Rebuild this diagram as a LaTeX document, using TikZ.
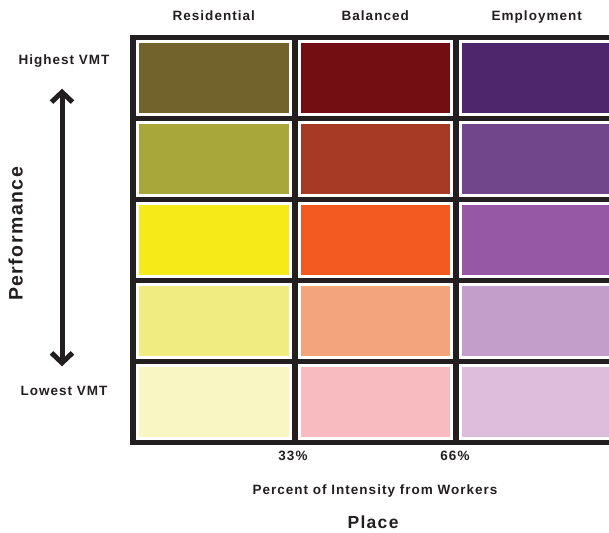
\documentclass[tikz,border=0pt]{standalone}
\usepackage{fontspec}
\setmainfont{Liberation Sans}[BoldFont={* Bold}]
\newfontfamily\labfont{Liberation Sans Bold}[LetterSpace=7.5]
\usetikzlibrary{arrows.meta,positioning}

\definecolor{gridblack}{HTML}{231F20}
\definecolor{res1}{HTML}{72632C}
\definecolor{res2}{HTML}{A7A839}
\definecolor{res3}{HTML}{F5EB18}
\definecolor{res4}{HTML}{F1EC82}
\definecolor{res5}{HTML}{F9F6C3}
\definecolor{bal1}{HTML}{730F12}
\definecolor{bal2}{HTML}{A73A24}
\definecolor{bal3}{HTML}{F25A22}
\definecolor{bal4}{HTML}{F4A47C}
\definecolor{bal5}{HTML}{F8BCC0}
\definecolor{emp1}{HTML}{4D266C}
\definecolor{emp2}{HTML}{71468A}
\definecolor{emp3}{HTML}{9657A4}
\definecolor{emp4}{HTML}{C39ECA}
\definecolor{emp5}{HTML}{DCBEDC}

\tikzset{
  cell/.style={draw=white, line width=3pt, inner sep=0pt,
    minimum width=152.5pt, minimum height=73pt},
  lab/.style={font=\labfont\fontsize{13.5}{15}\selectfont, text=gridblack,
    inner sep=1pt, text height=10pt, text depth=3pt},
  axis/.style={lab, text height=13pt, text depth=4pt},
  vmtarrow/.style={line width=5pt, draw=gridblack,
    {Straight Barb[length=10pt,width=21pt]}-{Straight Barb[length=10pt,width=21pt]}}
}

\begin{document}
\begin{tikzpicture}[x=1pt,y=-1pt]
\useasboundingbox (0,0) rectangle (609,532);
\begin{scope}
\clip (0,0) rectangle (609,532);
\fill [gridblack] (130,35) rectangle (620,445);
\foreach \kind [count=\c from 0] in {res,bal,emp}
  \foreach \r in {1,...,5}
    \node [cell, fill=\kind\r] (\kind-\r) at (213.75+161.5*\c, -3+81*\r) {};
\end{scope}
\node [lab] (hres) at (213.75,17) {Residential};
\node [lab] (hbal) at (375.25,17) {Balanced};
\node [lab] (hemp) at (536.75,17) {Employment};
\node [lab] (hi) at (64,61) {Highest VMT};
\node [lab] (lo) at (64,392) {Lowest VMT};
\draw [vmtarrow] ([xshift=-2pt,yshift=-20pt]hi.south) -- ([xshift=-2pt,yshift=18pt]lo.north);
\node [axis, font=\labfont\fontsize{19.5}{21}\selectfont, rotate=90] (perf) at (18,234) {Performance};
\node [lab] (p33) at (293,457) {33\%};
\node [lab] (p66) at (455,457) {66\%};
\node [lab] (pct) at (375,491) {Percent of Intensity from Workers};
\node [axis, font=\labfont\fontsize{17.5}{19}\selectfont] (place) at (373,524) {Place};
\end{tikzpicture}
\end{document}
